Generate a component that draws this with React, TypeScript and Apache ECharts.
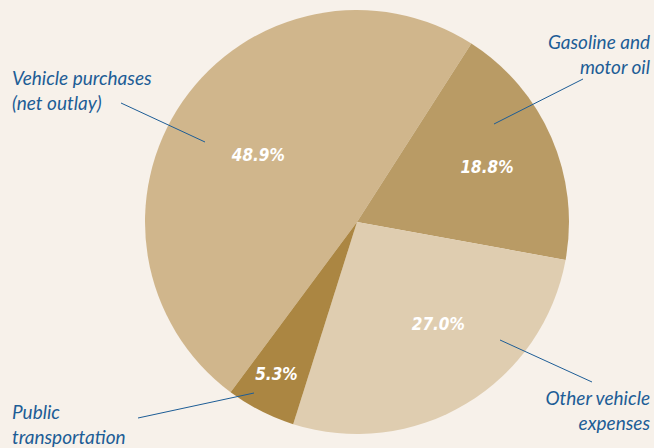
import React, { useEffect, useRef } from "react";
import * as echarts from "echarts";

const categories = [
  "Vehicle purchases (net outlay)",
  "Gasoline and motor oil",
  "Other vehicle expenses",
  "Public transportation",
];
const shares = [48.9, 18.8, 27.0, 5.3];
const sliceColors = ["#d0b68c", "#b99b65", "#dfcdb0", "#ab8642"];
const labelShift = [
  [-9, -5],
  [30, -12],
  [25, 9],
  [-31, 55],
];

const BLUE = "#1d5d96";
const nameFont = "Lato, 'Open Sans', sans-serif";

export default function App() {
  const ref = useRef<HTMLDivElement>(null);
  useEffect(() => {
    document.body.style.margin = "0";
    const chart = echarts.init(ref.current!, null, { renderer: "svg" });
    const nameText = (
      text: string,
      x: number,
      y: number,
      align: "left" | "right"
    ) => ({
      type: "text",
      x,
      y,
      silent: true,
      style: {
        text,
        fill: BLUE,
        font: `italic 19px ${nameFont}`,
        align,
        verticalAlign: "middle",
        lineHeight: 25,
      },
    });
    const pointer = (x1: number, y1: number, x2: number, y2: number) => ({
      type: "line",
      silent: true,
      z: 100,
      shape: { x1, y1, x2, y2 },
      style: { stroke: BLUE, lineWidth: 1 },
    });
    chart.setOption({
      animation: false,
      backgroundColor: "#f7f1ea",
      series: [
        {
          type: "pie",
          center: [357, 222],
          radius: 212,
          startAngle: 233.4,
          clockwise: true,
          silent: true,
          emphasis: { disabled: true },
          itemStyle: { borderWidth: 0 },
          label: {
            show: true,
            position: "inside",
            color: "#ffffff",
            fontFamily: "'Liberation Sans Narrow', 'DejaVu Sans Condensed', sans-serif",
            fontStyle: "italic",
            fontWeight: "bold",
            fontSize: 17,
            formatter: (p: any) => Number(p.value).toFixed(1) + "%",
          },
          labelLine: { show: false },
          labelLayout: (p: any) => ({
            dx: labelShift[p.dataIndex][0],
            dy: labelShift[p.dataIndex][1],
          }),
          data: categories.map((name, i) => ({
            name,
            value: shares[i],
            itemStyle: { color: sliceColors[i] },
          })),
        },
      ],
      graphic: [
        nameText("Vehicle purchases\n(net outlay)", 12, 90, "left"),
        nameText("Gasoline and\nmotor oil", 650, 54, "right"),
        nameText("Other vehicle\nexpenses", 650, 410, "right"),
        nameText("Public\ntransportation", 12, 424, "left"),
        pointer(121, 103, 205, 142),
        pointer(583, 79, 494, 124),
        pointer(500, 340, 592, 382),
        pointer(138, 418, 254, 393),
      ],
    });
    return () => chart.dispose();
  }, []);
  return <div ref={ref} style={{ width: 654, height: 448 }} />;
}
